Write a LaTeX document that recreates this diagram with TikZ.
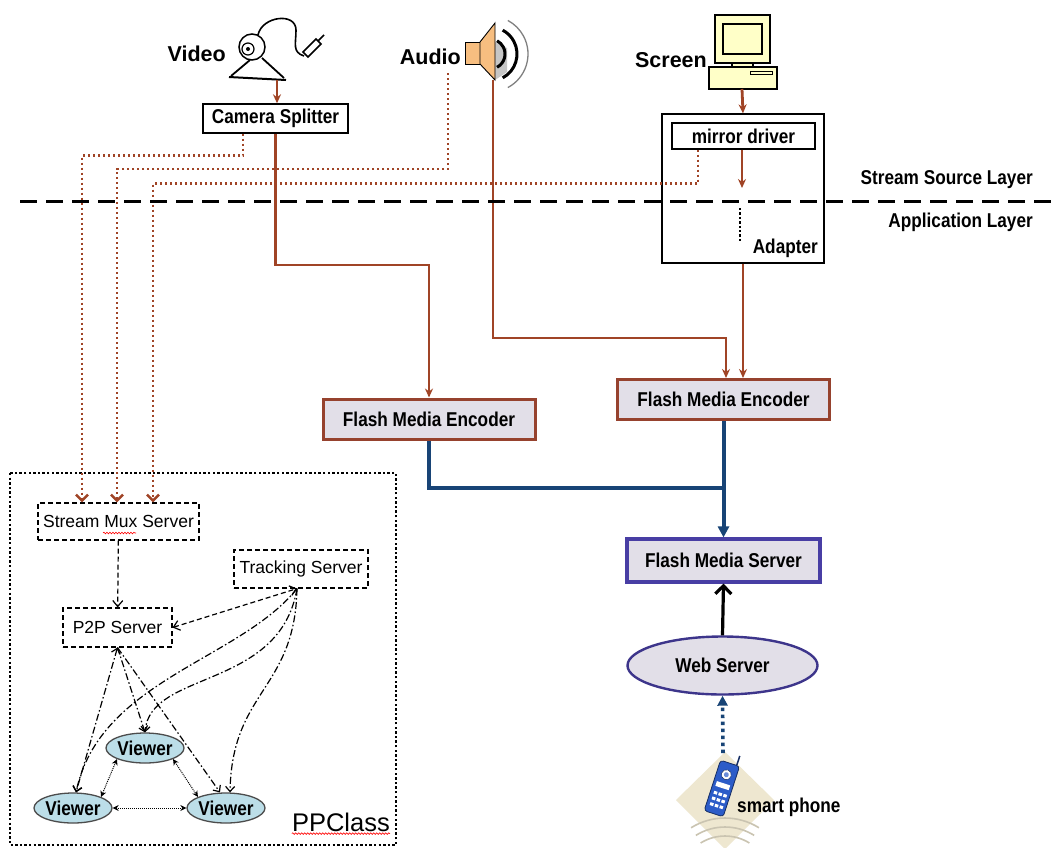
\documentclass[tikz,border=0pt]{standalone}
\usepackage{fontspec}
\setmainfont{Liberation Sans}
\newfontfamily\narrowsans[FakeStretch=0.86]{Liberation Sans}
\usepackage{xcolor}
\usepackage{tikz}
\usetikzlibrary{shapes,arrows,positioning,calc,decorations.pathmorphing,arrows.meta}

\definecolor{feedbrown}{RGB}{160,68,38}
\definecolor{encline}{RGB}{150,66,46}
\definecolor{boxgray}{RGB}{226,223,232}
\definecolor{fmsblue}{RGB}{72,62,164}
\definecolor{linknavy}{RGB}{24,68,118}
\definecolor{viewerblue}{RGB}{188,222,232}
\definecolor{spkorange}{RGB}{247,190,128}
\definecolor{pcyellow}{RGB}{255,255,200}
\definecolor{padbeige}{RGB}{238,231,208}
\definecolor{phoneblue}{RGB}{44,92,200}

\newcommand{\tagfont}{\narrowsans\bfseries\fontsize{20}{21}\selectfont}
\newcommand{\wordfont}{\bfseries\fontsize{21.5}{23}\selectfont}

\tikzset{
  srcbox/.style={draw, line width=1.4pt, fill=white, inner sep=0pt, font=\tagfont},
  encbox/.style={draw=encline, line width=3pt, fill=boxgray, minimum width=212pt,
    minimum height=40pt, inner sep=0pt, font=\tagfont},
  fmsbox/.style={draw=fmsblue, line width=3.2pt, fill=boxgray, minimum width=193pt,
    minimum height=43pt, inner sep=0pt, font=\tagfont},
  webnode/.style={ellipse, draw=fmsblue!85!black, line width=2.4pt, fill=boxgray,
    minimum width=190pt, minimum height=58pt, inner sep=0pt, font=\tagfont},
  ppnode/.style={draw, line width=1.1pt, dash pattern=on 5pt off 3pt, fill=white,
    inner sep=0pt, font=\fontsize{17.5}{19}\selectfont},
  viewer/.style={ellipse, draw=black!70, line width=1.3pt, fill=viewerblue,
    minimum width=71pt, minimum height=30pt, inner sep=0pt, font=\tagfont},
  label/.style={inner sep=0pt, font=\tagfont},
  feed/.style={draw=feedbrown, line width=2.8pt, -{Stealth[length=9pt,width=8pt]}},
  tap/.style={draw=feedbrown, line width=2.6pt, dash pattern=on 2.4pt off 2.6pt,
    -{Straight Barb[length=6pt,width=12pt]}},
  link/.style={draw=linknavy, line width=4pt},
  upl/.style={line width=3.2pt, -{Straight Barb[length=8pt,width=16pt]}},
  mob/.style={draw=linknavy, line width=3.6pt, dash pattern=on 3.5pt off 3.5pt,
    -{Triangle[length=10pt,width=10pt]}},
  layer/.style={line width=3pt, dash pattern=on 17pt off 9pt},
  frame/.style={line width=2.5pt, dash pattern=on 2.4pt off 2.2pt},
  ppdash/.style={line width=1.2pt, dash pattern=on 5pt off 3pt},
  ppdd/.style={line width=1.2pt, dash pattern=on 7pt off 2.5pt on 1.5pt off 2.5pt},
  vlink/.style={line width=1pt, dash pattern=on 1pt off 1pt,
    {Stealth[length=6pt,width=6pt]}-{Stealth[length=6pt,width=6pt]}},
  wiggle/.style={red, line width=0.6pt, decorate,
    decoration={snake, amplitude=0.8pt, segment length=3pt}}
}

\begin{document}
\begin{tikzpicture}[x=1pt, y=-1pt]
    \fill[white] (0,0) rectangle (1059,847);
    \useasboundingbox (0,0) rectangle (1059,847);

    % webcam
    \draw[line width=2pt] (229,77) -- (286,80);
    \draw[line width=1.8pt] (231,76) -- (250,60) (284,78) -- (262,58);
    \draw[line width=1.5pt, fill=white] (252,47) circle (13);
    \draw[line width=1.2pt] (248,49) circle (6);
    \fill (248,49) circle (2);
    \draw[line width=1.6pt] (258,35) .. controls (262,16) and (296,12) .. (296,30)
        .. controls (296,44) and (292,52) .. (304,56);
    \draw[line width=1.5pt, fill=white] (303,52) -- (316,39) -- (321,44) -- (308,57) -- cycle;
    \draw[line width=1.5pt] (318,41) -- (324,35);

    % speaker
    \coordinate (sc) at (490,54);
    \fill[gray!45] (495,42) -- (507,48) -- (507,72) -- (495,80) -- cycle;
    \draw[line width=0.9pt, fill=spkorange] (465,42) rectangle (480,64);
    \draw[line width=0.9pt, fill=spkorange] (480,42) -- (495,23) -- (495,80) -- (480,64) -- cycle;
    \draw[line width=3pt] ([shift={(-62:15pt)}]sc) arc[start angle=-62, end angle=62, radius=15pt];
    \draw[line width=3pt] ([shift={(-62:27pt)}]sc) arc[start angle=-62, end angle=62, radius=27pt];
    \draw[line width=1.3pt, gray] ([shift={(-62:38pt)}]sc) arc[start angle=-62, end angle=62, radius=38pt];

    % desktop computer
    \draw[line width=1.2pt, fill=pcyellow] (715,15) rectangle (770,63);
    \draw[line width=1.2pt, fill=pcyellow] (723,24) rectangle (762,54);
    \draw[line width=1.2pt, fill=pcyellow] (732,63) rectangle (753,67);
    \draw[line width=1.2pt, fill=pcyellow] (709,67) rectangle (777,89);
    \draw[line width=1pt] (750,71) rectangle (772,74);

    % handset on its pad
    \fill[padbeige] (725,752) -- (774,800) -- (725,849) -- (676,800) -- cycle;
    \coordinate (wc) at (725,882);
    \foreach \r in {46,55,64}
        \draw[padbeige!85!black, line width=1.6pt] ([shift={(58:\r pt)}]wc) arc[start angle=58, end angle=122, radius=\r pt];
    \begin{scope}[rotate around={-18:(722,788)}]
        \draw[line width=1.5pt, phoneblue!50!black] (729,762) -- (729,752);
        \draw[fill=phoneblue, draw=phoneblue!50!black, line width=0.8pt, rounded corners=3pt] (712,762) rectangle (732,815);
        \draw[fill=white, draw=phoneblue!40!black] (722,774) circle (5);
        \fill[phoneblue!70] (722,774) circle (2.5);
        \fill[white] (715,783) rectangle (729,788);
        \foreach \r in {0,1,2}
            \foreach \c in {0,1,2}
                \fill[white] ({715.5+\c*5},{793+\r*6}) rectangle ++(3.5,3);
    \end{scope}

    % sources and adapter
    \coordinate (cam) at (277,80);
    \coordinate (spk) at (493,80);
    \coordinate (audtap) at (448,73);
    \coordinate (pc) at (742,89);
    \coordinate (phone) at (723,753);
    \node[anchor=east, inner sep=0pt, font=\wordfont] (video) at (226,54) {Video};
    \node[anchor=east, inner sep=0pt, font=\wordfont] (audio) at (461,57) {Audio};
    \node[anchor=east, inner sep=0pt, font=\wordfont] (screen) at (707,60) {Screen};
    \node[srcbox, minimum width=145pt, minimum height=29pt] (splitter) at (275.5,118.5) {Camera Splitter};
    \node[draw, line width=1.4pt, minimum width=162pt, minimum height=149pt, inner sep=0pt] (adapter) at (743,188.5) {};
    \node[srcbox, minimum width=143pt, minimum height=26pt] (mirror) at (743.5,136) {mirror driver};
    \node[label, anchor=east] (adaptlbl) at (818,248) {Adapter};
    \coordinate (mirrorout) at (742,188);
    \draw[line width=2.4pt, dotted] (740,208) -- (740,243);

    % encoders and servers
    \node[encbox] (encL) at (429,419) {Flash Media Encoder};
    \node[encbox] (encR) at (723.5,399.5) {Flash Media Encoder};
    \node[fmsbox] (fms) at (723.5,560.5) {Flash Media Server};
    \node[webnode] (web) at (722.5,665.5) {Web Server};
    \node[label, anchor=west] (phonelbl) at (737,807) {smart phone};

    % PPClass side
    \draw[frame] (10,473) rectangle (396,845);
    \node[ppnode, minimum width=161pt, minimum height=37pt] (mux) at (118.5,521.5) {Stream Mux Server};
    \node[ppnode, minimum width=134pt, minimum height=38pt] (track) at (301,569) {Tracking Server};
    \node[ppnode, minimum width=109pt, minimum height=39pt] (p2p) at (117.5,627.5) {P2P Server};
    \node[viewer] (vtop) at (145,748) {Viewer};
    \node[viewer] (vleft) at (73,808) {Viewer};
    \node[viewer] (vright) at (226,808) {Viewer};
    \node[anchor=east, inner sep=0pt, font=\fontsize{25.5}{27}\selectfont] (ppclass) at (390,822) {PPClass};
    \draw[wiggle] (103,533) -- (136,533);
    \draw[wiggle] ([yshift=-2pt]ppclass.south west) -- ([yshift=-2pt]ppclass.south east);

    % media feeds
    \coordinate (vbend) at (0,265);
    \coordinate (abend) at (0,338);
    \coordinate (join) at (723,488);
    \draw[feed] (cam) -- (cam |- splitter.north);
    \draw[feed] (pc) -- (adapter.north);
    \draw[feed] (mirror.south -| mirrorout) -- (mirrorout);
    \draw[feed] (splitter.south) -- (splitter.south |- vbend) -| (encL.north);
    \draw[feed] (spk) -- (spk |- abend) -| ([xshift=2.5pt]encR.north);
    \draw[feed] (adapter.south) -- (adapter.south |- encR.north);
    \draw[tap] ([xshift=-32.5pt]splitter.south) -- ++(0,22) -| ([xshift=-36.5pt]mux.north);
    \draw[tap] (audtap) -- ++(0,96) -| ([xshift=-1.5pt]mux.north);
    \draw[tap] ([xshift=-45.5pt]mirror.south) -- ++(0,34) -| ([xshift=34.5pt]mux.north);

    % publishing to the server
    \draw[link] (encL.south) |- (join);
    \draw[link, -{Triangle[length=11pt,width=11pt]}] (encR.south) -- (fms.north);
    \draw[upl] (web.north) -- (fms.south);
    \draw[mob] (phone) -- (web.south);

    % peer links
    \draw[ppdash, -{Straight Barb[length=6pt,width=10pt]}] (mux) -- (p2p);
    \draw[ppdash, {Straight Barb[length=6pt,width=10pt]}-{Straight Barb[length=6pt,width=10pt]}] (p2p.east) -- ([xshift=-4pt]track.south);
    \draw[ppdd, {Straight Barb[length=5pt,width=9pt]}-{Straight Barb[length=5pt,width=9pt]}] (p2p.south) -- ([xshift=3pt]vleft.north);
    \draw[ppdd, -{Straight Barb[length=5pt,width=9pt]}] (p2p.south) -- (vtop.north);
    \draw[ppdd, -{Straight Barb[length=5pt,width=9pt]}] (p2p.south) -- ([xshift=-6pt]vright.north);
    \draw[ppdd, -{Straight Barb[length=5pt,width=9pt]}] ([xshift=-4pt]track.south) .. controls (240,660) and (100,680) .. ([xshift=3pt]vleft.north);
    \draw[ppdd, -{Straight Barb[length=5pt,width=9pt]}] ([xshift=-4pt]track.south) .. controls (280,690) and (150,670) .. (vtop.north);
    \draw[ppdd, -{Straight Barb[length=5pt,width=9pt]}] ([xshift=-4pt]track.south) .. controls (295,690) and (232,690) .. ([xshift=4pt]vright.north);
    \draw[vlink] (vtop.south west) -- (vleft.north east);
    \draw[vlink] (vtop.south east) -- (vright.north west);
    \draw[vlink] (vleft.east) -- (vright.west);

    % layer boundary
    \coordinate (layerW) at (20,201);
    \coordinate (layerE) at (1059,201);
    \draw[layer] (layerW) -- (layerE);
    \node[label, anchor=east] (srclayer) at (1033,180) {Stream Source Layer};
    \node[label, anchor=east] (applayer) at (1033,222) {Application Layer};
\end{tikzpicture}
\end{document}
